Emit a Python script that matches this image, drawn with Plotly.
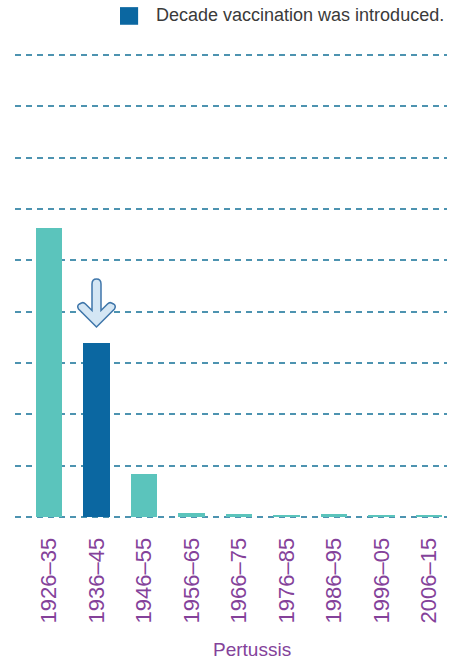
import plotly.graph_objects as go

# Pertussis cases per decade (in gridline units)
decades = ["1926–35", "1936–45", "1946–55", "1956–65", "1966–75",
           "1976–85", "1986–95", "1996–05", "2006–15"]
cases = [5.63, 3.39, 0.84, 0.08, 0.05, 0.03, 0.06, 0.04, 0.04]
vaccine_decade = "1936–45"
legend_text = "Decade vaccination was introduced."
disease = "Pertussis"

TEAL = "#5bc4bc"
DARK_BLUE = "#0b67a1"
PURPLE = "#84429a"
GRID = "#4d93b0"

xpos = list(range(len(decades)))
vi = decades.index(vaccine_decade)
bar_colors = [DARK_BLUE if d == vaccine_decade else TEAL for d in decades]

fig = go.Figure()
fig.add_trace(go.Bar(
    x=xpos, y=cases, width=0.55,
    marker=dict(color=bar_colors, line=dict(width=0)),
    showlegend=False, hoverinfo="skip",
))


def arrow_path(gap):
    """Outline of a down arrow in pixels, tip sitting `gap` px above the anchor."""
    segs = [
        ("M", [(0, 0)]),
        ("L", [(-18, 18)]), ("Q", [(-20, 21), (-17, 23)]),
        ("L", [(-15, 24)]), ("Q", [(-13, 25), (-11, 23)]),
        ("L", [(-4.5, 16.5)]), ("L", [(-4.5, 43)]),
        ("Q", [(-4.5, 48), (0, 48)]), ("Q", [(4.5, 48), (4.5, 43)]),
        ("L", [(4.5, 16.5)]), ("L", [(11, 23)]),
        ("Q", [(13, 25), (15, 24)]), ("L", [(17, 23)]),
        ("Q", [(20, 21), (18, 18)]),
    ]
    out = []
    for cmd, pts in segs:
        out.append(cmd + " " + " ".join(f"{x} {y + gap}" for x, y in pts))
    return " ".join(out) + " Z"


# Down arrow marking the vaccination decade, anchored above its bar
fig.add_shape(
    type="path", xref="x", yref="y",
    xsizemode="pixel", ysizemode="pixel",
    xanchor=xpos[vi], yanchor=cases[vi],
    path=arrow_path(16),
    fillcolor="#d4e6f4", line=dict(color="#3f76aa", width=1.5),
    layer="above",
)

# Legend key
fig.add_shape(type="rect", xref="paper", yref="paper",
              x0=0.243, x1=0.285, y0=1.063, y1=1.101,
              fillcolor=DARK_BLUE, line=dict(width=0))
fig.add_annotation(text=legend_text, xref="paper", yref="paper",
                   x=0.322, y=1.083, xanchor="left", yanchor="middle",
                   showarrow=False,
                   font=dict(family="Liberation Sans, Arial", size=18, color="#3a3a3a"))

# Axis caption
fig.add_annotation(text=disease, xref="paper", yref="paper",
                   x=0.548, y=-0.284, xanchor="center", yanchor="middle",
                   showarrow=False,
                   font=dict(family="Liberation Sans, Arial", size=19, color=PURPLE))

fig.update_layout(
    width=449, height=664,
    margin=dict(l=15, r=2, t=54, b=146),
    paper_bgcolor="white", plot_bgcolor="white",
    bargap=0,
    xaxis=dict(
        range=[-0.716, 8.38], tickmode="array", tickvals=xpos, ticktext=decades,
        tickangle=-90, showgrid=False, zeroline=False, showline=False,
        ticks="outside", ticklen=10, tickcolor="rgba(0,0,0,0)",
        tickfont=dict(family="Liberation Sans, Arial", size=22, color=PURPLE),
    ),
    yaxis=dict(
        range=[-0.02, 9.02], dtick=1, tick0=0, showticklabels=False,
        showgrid=True, gridcolor=GRID, gridwidth=1.5, griddash="6px,5px",
        zeroline=False, showline=False,
    ),
)

fig.write_html("out.html")
